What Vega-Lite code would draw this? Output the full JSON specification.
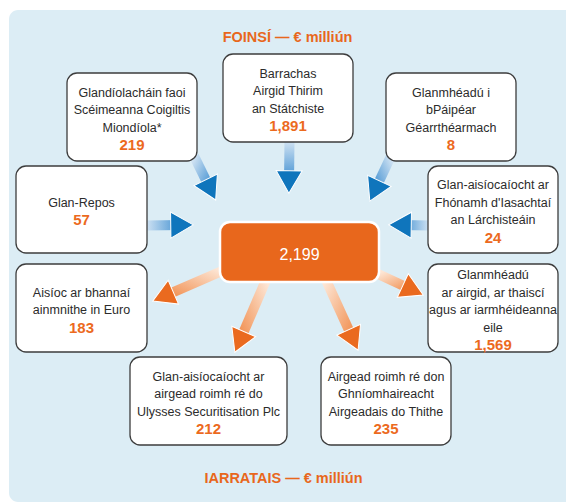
{
  "$schema": "https://vega.github.io/schema/vega-lite/v6.json",
  "width": 566,
  "height": 503,
  "autosize": {"type": "fit", "contains": "padding"},
  "padding": 0,
  "background": "white",
  "config": {
    "view": {"stroke": null},
    "text": {"font": "Liberation Sans, Arial, Helvetica, sans-serif"}
  },
  "datasets": {
    "panel": [{"x0": 9, "x1": 590, "y0": 10, "y1": 502}],
    "arrows": [
      {"id": "A1", "kind": "in", "x0": 194, "y0": 156, "x1": 210.7, "y1": 189.9},
      {"id": "A2", "kind": "in", "x0": 289.5, "y0": 140, "x1": 289, "y1": 182},
      {"id": "A3", "kind": "in", "x0": 391, "y0": 156, "x1": 374.6, "y1": 191},
      {"id": "A4", "kind": "in", "x0": 145, "y0": 225.5, "x1": 182, "y1": 225},
      {"id": "A5", "kind": "in", "x0": 430, "y0": 225.5, "x1": 400, "y1": 225},
      {"id": "O1", "kind": "out", "x0": 222, "y0": 271, "x1": 163, "y1": 296.6},
      {"id": "O2", "kind": "out", "x0": 266, "y0": 280, "x1": 239.3, "y1": 341.9},
      {"id": "O3", "kind": "out", "x0": 326, "y0": 280, "x1": 353.4, "y1": 340},
      {"id": "O4", "kind": "out", "x0": 378, "y0": 274, "x1": 413, "y1": 290.3}
    ],
    "boxes": [
      {"label": "Glandíolacháin faoi\nScéimeanna Coigiltis\nMiondíola*", "value": "219", "x0": 67, "x1": 197, "y0": 73, "y1": 161},
      {"label": "Barrachas\nAirgid Thirim\nan Státchiste", "value": "1,891", "x0": 223, "x1": 353, "y0": 54, "y1": 142},
      {"label": "Glanmhéadú i\nbPáipéar\nGéarrthéarmach", "value": "8", "x0": 386, "x1": 516, "y0": 73, "y1": 161},
      {"label": "Glan-Repos", "value": "57", "x0": 16, "x1": 147, "y0": 166, "y1": 253},
      {"label": "Glan-aisíocaíocht ar\nFhónamh d'Iasachtaí\nan Lárchisteáin", "value": "24", "x0": 428, "x1": 558, "y0": 166, "y1": 253},
      {"label": "Aisíoc ar bhannaí\nainmnithe in Euro", "value": "183", "x0": 16, "x1": 147, "y0": 264, "y1": 352},
      {"label": "Glanmhéadú\nar airgid, ar thaiscí\nagus ar iarmhéideanna\neile", "value": "1,569", "x0": 428, "x1": 558, "y0": 264, "y1": 352},
      {"label": "Glan-aisíocaíocht ar\nairgead roimh ré do\nUlysses Securitisation Plc", "value": "212", "x0": 130, "x1": 287, "y0": 357, "y1": 445},
      {"label": "Airgead roimh ré don\nGhníomhaireacht\nAirgeadais do Thithe", "value": "235", "x0": 321, "x1": 451, "y0": 357, "y1": 445}
    ],
    "center": [{"value": "2,199", "x0": 220, "x1": 379, "y0": 222, "y1": 282}],
    "titles": [
      {"text": "FOINSÍ — € milliún", "x": 287.5, "y": 38},
      {"text": "IARRATAIS — € milliún", "x": 283.5, "y": 479}
    ]
  },
  "layer": [
    {
      "data": {"name": "panel"},
      "mark": {"type": "rect", "fill": "#dcedf5", "cornerRadius": 9, "clip": true},
      "encoding": {
        "x": {"field": "x0", "type": "quantitative", "scale": {"domain": [0, 566], "nice": false, "zero": false}, "axis": null},
        "x2": {"field": "x1"},
        "y": {"field": "y0", "type": "quantitative", "scale": {"domain": [0, 503], "reverse": true, "nice": false, "zero": false}, "axis": null},
        "y2": {"field": "y1"}
      }
    },
    {
      "data": {"name": "arrows"},
      "transform": [{"filter": {"field": "id", "oneOf": ["A1"]}}],
      "mark": {"type": "rule", "strokeWidth": 10, "stroke": {"gradient": "linear", "x1": 0, "y1": 0, "x2": 1, "y2": 1, "stops": [{"offset": 0, "color": "#d4e5f4"}, {"offset": 1, "color": "#3a8ccf"}]}},
      "encoding": {
        "x": {"field": "x0", "type": "quantitative", "scale": {"domain": [0, 566], "nice": false, "zero": false}, "axis": null},
        "x2": {"field": "x1"},
        "y": {"field": "y0", "type": "quantitative", "scale": {"domain": [0, 503], "reverse": true, "nice": false, "zero": false}, "axis": null},
        "y2": {"field": "y1"}
      }
    },
    {
      "data": {"name": "arrows"},
      "transform": [{"filter": {"field": "id", "oneOf": ["A2"]}}],
      "mark": {"type": "rule", "strokeWidth": 10, "stroke": {"gradient": "linear", "x1": 0, "y1": 0, "x2": 0, "y2": 1, "stops": [{"offset": 0, "color": "#d4e5f4"}, {"offset": 1, "color": "#3a8ccf"}]}},
      "encoding": {
        "x": {"field": "x0", "type": "quantitative", "scale": {"domain": [0, 566], "nice": false, "zero": false}, "axis": null},
        "x2": {"field": "x1"},
        "y": {"field": "y0", "type": "quantitative", "scale": {"domain": [0, 503], "reverse": true, "nice": false, "zero": false}, "axis": null},
        "y2": {"field": "y1"}
      }
    },
    {
      "data": {"name": "arrows"},
      "transform": [{"filter": {"field": "id", "oneOf": ["A3"]}}],
      "mark": {"type": "rule", "strokeWidth": 10, "stroke": {"gradient": "linear", "x1": 1, "y1": 0, "x2": 0, "y2": 1, "stops": [{"offset": 0, "color": "#d4e5f4"}, {"offset": 1, "color": "#3a8ccf"}]}},
      "encoding": {
        "x": {"field": "x0", "type": "quantitative", "scale": {"domain": [0, 566], "nice": false, "zero": false}, "axis": null},
        "x2": {"field": "x1"},
        "y": {"field": "y0", "type": "quantitative", "scale": {"domain": [0, 503], "reverse": true, "nice": false, "zero": false}, "axis": null},
        "y2": {"field": "y1"}
      }
    },
    {
      "data": {"name": "arrows"},
      "transform": [{"filter": {"field": "id", "oneOf": ["A4"]}}],
      "mark": {"type": "rule", "strokeWidth": 10, "stroke": {"gradient": "linear", "x1": 0, "y1": 0, "x2": 1, "y2": 0, "stops": [{"offset": 0, "color": "#d4e5f4"}, {"offset": 1, "color": "#3a8ccf"}]}},
      "encoding": {
        "x": {"field": "x0", "type": "quantitative", "scale": {"domain": [0, 566], "nice": false, "zero": false}, "axis": null},
        "x2": {"field": "x1"},
        "y": {"field": "y0", "type": "quantitative", "scale": {"domain": [0, 503], "reverse": true, "nice": false, "zero": false}, "axis": null},
        "y2": {"field": "y1"}
      }
    },
    {
      "data": {"name": "arrows"},
      "transform": [{"filter": {"field": "id", "oneOf": ["A5"]}}],
      "mark": {"type": "rule", "strokeWidth": 10, "stroke": {"gradient": "linear", "x1": 1, "y1": 0, "x2": 0, "y2": 0, "stops": [{"offset": 0, "color": "#d4e5f4"}, {"offset": 1, "color": "#3a8ccf"}]}},
      "encoding": {
        "x": {"field": "x0", "type": "quantitative", "scale": {"domain": [0, 566], "nice": false, "zero": false}, "axis": null},
        "x2": {"field": "x1"},
        "y": {"field": "y0", "type": "quantitative", "scale": {"domain": [0, 503], "reverse": true, "nice": false, "zero": false}, "axis": null},
        "y2": {"field": "y1"}
      }
    },
    {
      "data": {"name": "arrows"},
      "transform": [{"filter": {"field": "id", "oneOf": ["O1", "O2"]}}],
      "mark": {"type": "rule", "strokeWidth": 10, "stroke": {"gradient": "linear", "x1": 1, "y1": 0, "x2": 0, "y2": 1, "stops": [{"offset": 0, "color": "#fde6d5"}, {"offset": 1, "color": "#f08a48"}]}},
      "encoding": {
        "x": {"field": "x0", "type": "quantitative", "scale": {"domain": [0, 566], "nice": false, "zero": false}, "axis": null},
        "x2": {"field": "x1"},
        "y": {"field": "y0", "type": "quantitative", "scale": {"domain": [0, 503], "reverse": true, "nice": false, "zero": false}, "axis": null},
        "y2": {"field": "y1"}
      }
    },
    {
      "data": {"name": "arrows"},
      "transform": [{"filter": {"field": "id", "oneOf": ["O3", "O4"]}}],
      "mark": {"type": "rule", "strokeWidth": 10, "stroke": {"gradient": "linear", "x1": 0, "y1": 0, "x2": 1, "y2": 1, "stops": [{"offset": 0, "color": "#fde6d5"}, {"offset": 1, "color": "#f08a48"}]}},
      "encoding": {
        "x": {"field": "x0", "type": "quantitative", "scale": {"domain": [0, 566], "nice": false, "zero": false}, "axis": null},
        "x2": {"field": "x1"},
        "y": {"field": "y0", "type": "quantitative", "scale": {"domain": [0, 503], "reverse": true, "nice": false, "zero": false}, "axis": null},
        "y2": {"field": "y1"}
      }
    },
    {
      "data": {"name": "arrows"},
      "transform": [{"calculate": "atan2(datum.x1 - datum.x0, datum.y0 - datum.y1) * 180 / PI", "as": "ang"}],
      "mark": {"type": "point", "shape": "triangle-up", "filled": true, "opacity": 1, "size": 676, "stroke": "white", "strokeWidth": 1},
      "encoding": {
        "x": {"field": "x1", "type": "quantitative", "scale": {"domain": [0, 566], "nice": false, "zero": false}, "axis": null},
        "y": {"field": "y1", "type": "quantitative", "scale": {"domain": [0, 503], "reverse": true, "nice": false, "zero": false}, "axis": null},
        "angle": {"field": "ang", "type": "quantitative", "scale": null},
        "color": {"field": "kind", "type": "nominal", "scale": {"domain": ["in", "out"], "range": ["#0f75bc", "#ea6a1f"]}, "legend": null}
      }
    },
    {
      "data": {"name": "boxes"},
      "mark": {"type": "rect", "fill": "white", "stroke": "#3d3d3d", "strokeWidth": 1.3, "cornerRadius": 10},
      "encoding": {
        "x": {"field": "x0", "type": "quantitative", "scale": {"domain": [0, 566], "nice": false, "zero": false}, "axis": null},
        "x2": {"field": "x1"},
        "y": {"field": "y0", "type": "quantitative", "scale": {"domain": [0, 503], "reverse": true, "nice": false, "zero": false}, "axis": null},
        "y2": {"field": "y1"}
      }
    },
    {
      "data": {"name": "boxes"},
      "transform": [
        {"calculate": "(datum.x0 + datum.x1) / 2", "as": "cx"},
        {"calculate": "(datum.y0 + datum.y1) / 2 + 2 - length(split(datum.label, '\\n')) * 8.75", "as": "ly"}
      ],
      "mark": {"type": "text", "align": "center", "baseline": "middle", "fontSize": 12.5, "lineHeight": 17.5, "lineBreak": "\n", "fill": "#2b2b2b"},
      "encoding": {
        "x": {"field": "cx", "type": "quantitative", "scale": {"domain": [0, 566], "nice": false, "zero": false}, "axis": null},
        "y": {"field": "ly", "type": "quantitative", "scale": {"domain": [0, 503], "reverse": true, "nice": false, "zero": false}, "axis": null},
        "text": {"field": "label"}
      }
    },
    {
      "data": {"name": "boxes"},
      "transform": [
        {"calculate": "(datum.x0 + datum.x1) / 2", "as": "cx"},
        {"calculate": "(datum.y0 + datum.y1) / 2 + 2 + length(split(datum.label, '\\n')) * 8.75", "as": "ny"}
      ],
      "mark": {"type": "text", "align": "center", "baseline": "middle", "fontSize": 15, "fontWeight": "bold", "fill": "#ec6a1e"},
      "encoding": {
        "x": {"field": "cx", "type": "quantitative", "scale": {"domain": [0, 566], "nice": false, "zero": false}, "axis": null},
        "y": {"field": "ny", "type": "quantitative", "scale": {"domain": [0, 503], "reverse": true, "nice": false, "zero": false}, "axis": null},
        "text": {"field": "value"}
      }
    },
    {
      "data": {"name": "center"},
      "mark": {"type": "rect", "fill": "#e8671c", "stroke": "white", "strokeWidth": 2.5, "cornerRadius": 10},
      "encoding": {
        "x": {"field": "x0", "type": "quantitative", "scale": {"domain": [0, 566], "nice": false, "zero": false}, "axis": null},
        "x2": {"field": "x1"},
        "y": {"field": "y0", "type": "quantitative", "scale": {"domain": [0, 503], "reverse": true, "nice": false, "zero": false}, "axis": null},
        "y2": {"field": "y1"}
      }
    },
    {
      "data": {"name": "center"},
      "transform": [
        {"calculate": "(datum.x0 + datum.x1) / 2", "as": "cx"},
        {"calculate": "(datum.y0 + datum.y1) / 2 + 3", "as": "cy"}
      ],
      "mark": {"type": "text", "align": "center", "baseline": "middle", "fontSize": 16, "fill": "white"},
      "encoding": {
        "x": {"field": "cx", "type": "quantitative", "scale": {"domain": [0, 566], "nice": false, "zero": false}, "axis": null},
        "y": {"field": "cy", "type": "quantitative", "scale": {"domain": [0, 503], "reverse": true, "nice": false, "zero": false}, "axis": null},
        "text": {"field": "value"}
      }
    },
    {
      "data": {"name": "titles"},
      "mark": {"type": "text", "align": "center", "baseline": "middle", "fontSize": 14.5, "fontWeight": "bold", "fill": "#e8671c"},
      "encoding": {
        "x": {"field": "x", "type": "quantitative", "scale": {"domain": [0, 566], "nice": false, "zero": false}, "axis": null},
        "y": {"field": "y", "type": "quantitative", "scale": {"domain": [0, 503], "reverse": true, "nice": false, "zero": false}, "axis": null},
        "text": {"field": "text"}
      }
    }
  ]
}
